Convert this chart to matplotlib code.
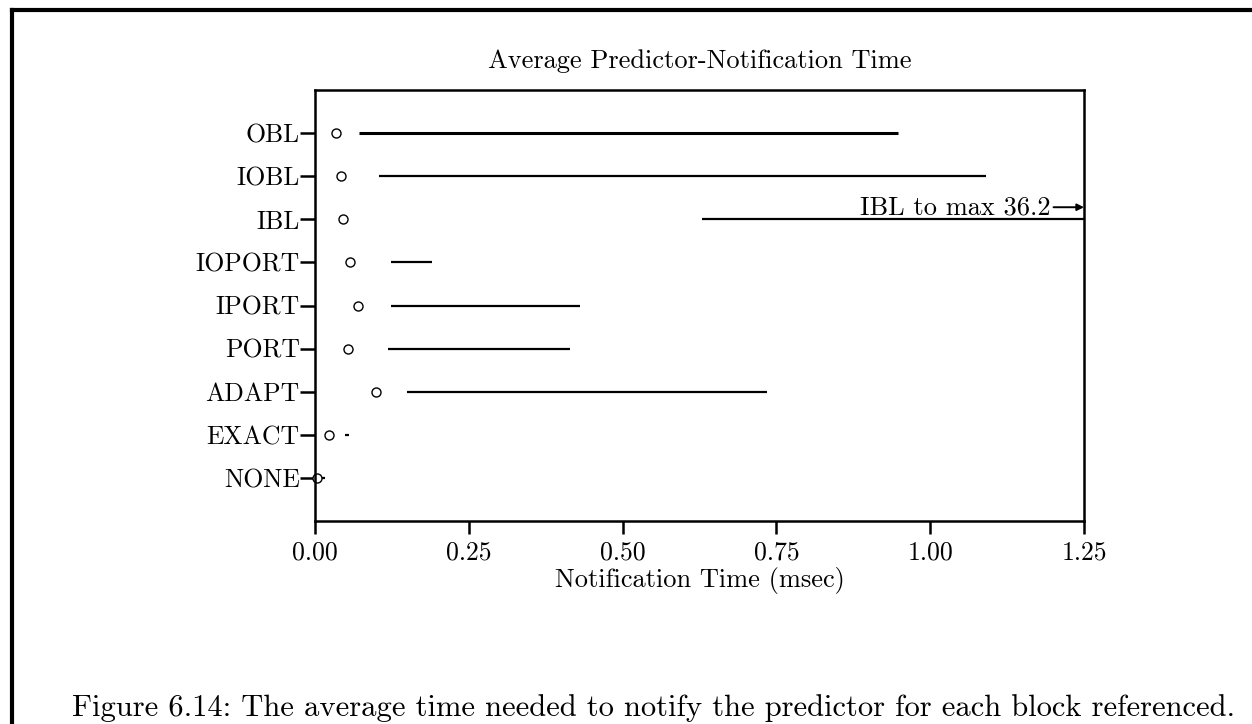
import matplotlib
matplotlib.use("Agg")
from matplotlib import pyplot as plt
from matplotlib.lines import Line2D

# predictors, top to bottom
predictors = ["OBL", "IOBL", "IBL", "IOPORT", "IPORT", "PORT", "ADAPT", "EXACT", "NONE"]

# average notification time (msec), drawn as open circles
avg_time = [0.034, 0.042, 0.045, 0.057, 0.070, 0.053, 0.099, 0.023, 0.004]

# spread of notification time (msec), drawn as horizontal bars
range_lo = [0.072, 0.104, 0.629, 0.124, 0.124, 0.119, 0.150, 0.049, 0.011]
range_hi = [0.947, 1.090, 36.2, 0.190, 0.431, 0.414, 0.735, 0.055, 0.017]

ibl_max = 36.2
x_ticks = [0.00, 0.25, 0.50, 0.75, 1.00, 1.25]

plt.rcParams["font.family"] = ["cmr10", "DejaVu Serif"]
plt.rcParams["axes.formatter.use_mathtext"] = True

fig = plt.figure(figsize=(12.52, 7.24), dpi=100)
ax = fig.add_axes([315 / 1252, 1 - 521 / 724, (1084 - 315) / 1252, (521 - 90) / 724])

n = len(predictors)
ypos = [n - i for i in range(n)]

for i in range(n):
	lw = 2.2 if predictors[i] == "OBL" else 1.6
	ax.plot([range_lo[i], range_hi[i]], [ypos[i], ypos[i]], color="black",
		linewidth=lw, solid_capstyle="butt")

ax.plot(avg_time, ypos, linestyle="none", marker="o", markersize=6.5,
	markerfacecolor="white", markeredgecolor="black", markeredgewidth=1.0, clip_on=False)

ax.set_xlim(0, 1.25)
ax.set_ylim(0, 10)
ax.set_xticks(x_ticks)
ax.set_xticklabels(["%.2f" % t for t in x_ticks])
ax.set_yticks(ypos)
ax.set_yticklabels(predictors)

for s in ax.spines.values():
	s.set_linewidth(1.8)

ax.tick_params(axis="both", direction="out", width=1.8, labelsize=18.5)
ax.tick_params(axis="y", length=11, pad=0)
ax.tick_params(axis="x", length=9, pad=5)

ax.set_title("Average Predictor-Notification Time", fontsize=19, pad=16)
ax.set_xlabel("Notification Time (msec)", fontsize=19, labelpad=2)

# IBL bar runs off the axis; note where it ends
ax.annotate("IBL to max %.1f" % ibl_max, xy=(1.25, 7.28), xytext=(1.196, 7.28),
	fontsize=19, ha="right", va="center",
	arrowprops=dict(arrowstyle="-|>", color="black", lw=1.4, mutation_scale=10,
		shrinkA=0, shrinkB=0))

# page frame
fig.add_artist(Line2D([12 / 1252, 12 / 1252], [0, 1 - 10 / 724], color="black",
	linewidth=3, transform=fig.transFigure))
fig.add_artist(Line2D([12 / 1252, 1], [1 - 10 / 724, 1 - 10 / 724], color="black",
	linewidth=3, transform=fig.transFigure))

fig.text(72 / 1252, 1 - 708 / 724,
	"Figure 6.14: The average time needed to notify the predictor for each block referenced.",
	fontsize=22, ha="left", va="center")

fig.savefig("out.png", dpi=100)
